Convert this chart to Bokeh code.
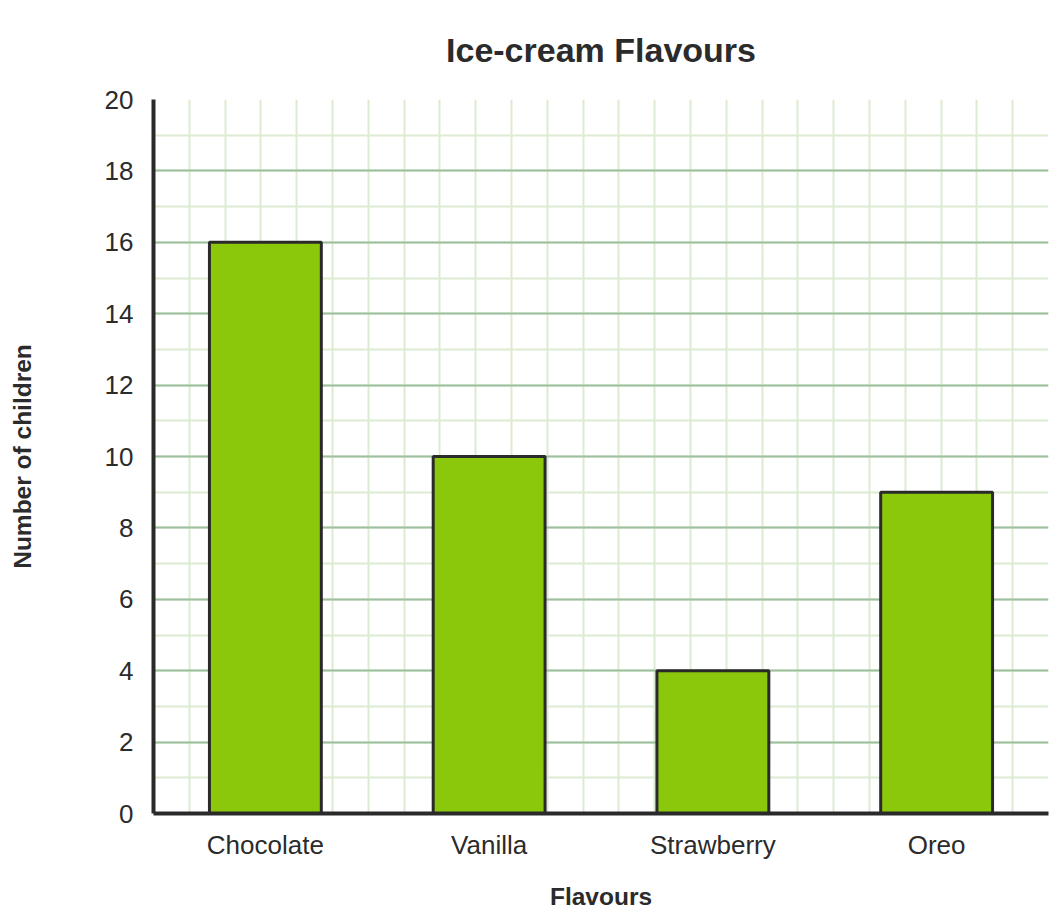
from bokeh.plotting import figure
from bokeh.models import Range1d, FixedTicker, SingleIntervalTicker
from bokeh.embed import file_html
from bokeh.resources import INLINE

# Data
flavours = ["Chocolate", "Vanilla", "Strawberry", "Oreo"]
children = [16, 10, 4, 9]
y_max = 20
y_ticks_interval = 2
title_text = "Ice-cream Flavours"

positions = [i + 0.5 for i in range(len(flavours))]

FONT = "Liberation Sans"
TEXT = "#2b2b2b"
AXIS = "#2a2a2a"

p = figure(width=1051, height=912, output_backend="svg", toolbar_location=None,
           x_range=Range1d(0, len(flavours)), y_range=Range1d(0, y_max),
           min_border_left=153, min_border_right=3, min_border_top=99, min_border_bottom=97)

p.title.text = title_text
p.title.align = "center"
p.title.vertical_align = "top"
p.title.text_font = FONT
p.title.text_font_size = "34px"
p.title.text_font_style = "bold"
p.title.text_color = TEXT
p.title.standoff = 58

p.vbar(x=positions, top=children, width=0.5, bottom=0,
       fill_color="#8bc70a", line_color=AXIS, line_width=3)

# grids
p.ygrid.ticker = SingleIntervalTicker(interval=y_ticks_interval, num_minor_ticks=2)
p.ygrid.grid_line_color = "#9ec09e"
p.ygrid.grid_line_width = 2
p.ygrid.minor_grid_line_color = "#dcebd2"
p.ygrid.minor_grid_line_width = 2
p.xgrid.ticker = FixedTicker(ticks=[k * 0.16 for k in range(26)])
p.xgrid.grid_line_color = "#dcebd2"
p.xgrid.grid_line_width = 2
p.outline_line_color = None

p.yaxis.ticker = SingleIntervalTicker(interval=y_ticks_interval, num_minor_ticks=2)
p.yaxis.axis_label = "Number of children"
p.xaxis.axis_label = "Flavours"
for ax in (p.xaxis[0], p.yaxis[0]):
    ax.axis_line_color = AXIS
    ax.axis_line_width = 4
    ax.major_tick_line_color = None
    ax.minor_tick_line_color = None
    ax.major_label_text_font = FONT
    ax.major_label_text_font_size = "26px"
    ax.major_label_text_color = TEXT
    ax.axis_label_text_font = FONT
    ax.axis_label_text_font_size = "24.5px"
    ax.axis_label_text_font_style = "bold"
    ax.axis_label_text_color = TEXT

p.yaxis.major_label_standoff = 14
p.yaxis.axis_label_standoff = 66
p.xaxis.ticker = FixedTicker(ticks=positions)
p.xaxis.major_label_overrides = {pos: name for pos, name in zip(positions, flavours)}
p.xaxis.major_label_standoff = 10
p.xaxis.axis_label_standoff = 20

open("out.html", "w").write(file_html(p, INLINE))
